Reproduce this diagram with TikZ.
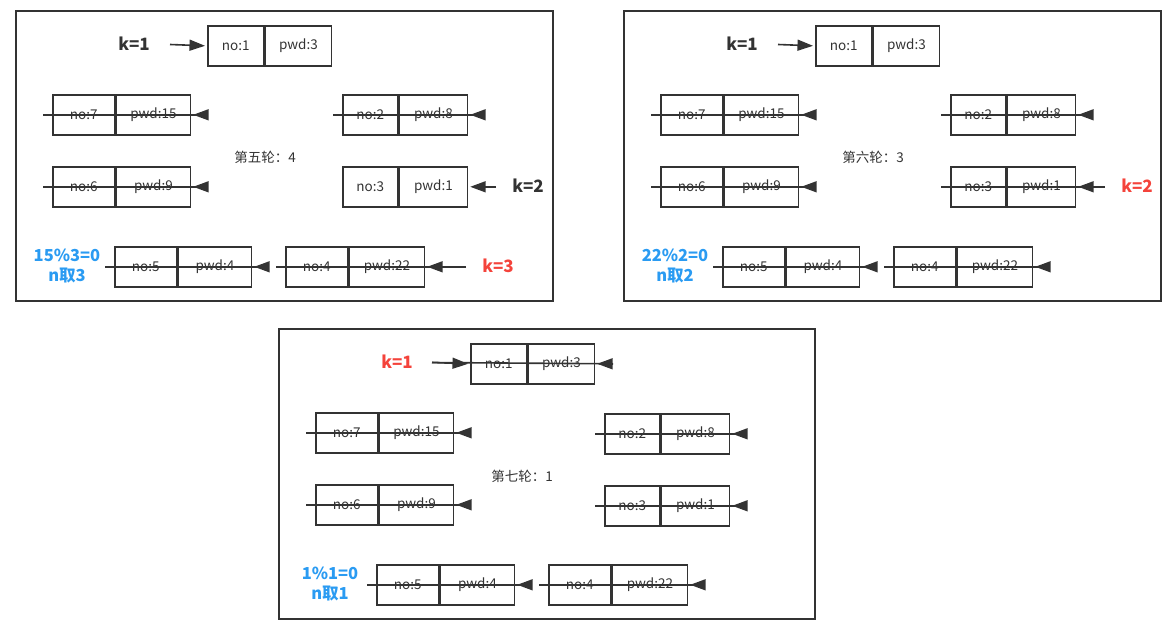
\documentclass[tikz,border=0pt]{standalone}
\usepackage{fontspec}
\setmainfont{Noto Sans CJK SC}
\usetikzlibrary{arrows.meta}
\definecolor{ink}{HTML}{333333}
\definecolor{kred}{HTML}{F4433B}
\definecolor{kblue}{HTML}{2A9BF2}
\tikzset{
 cell/.style={draw=ink, line width=1.6pt, minimum height=40pt, inner sep=0pt, anchor=north west, font=\fontsize{13.5}{15}\selectfont, text=ink},
 frame/.style={draw=ink, line width=1.5pt},
 link/.style={draw=ink, line width=1.6pt},
 arr/.style={draw=ink, line width=1.6pt, -{Triangle[length=15.5pt,width=11pt]}},
 klab/.style={font=\fontsize{17}{20}\selectfont\bfseries, text=ink, inner sep=0pt},
 lab/.style={font=\fontsize{13.5}{15}\selectfont, text=ink, inner sep=0pt},
 nlab/.style={font=\fontsize{16.5}{20.5}\selectfont\bfseries, text=kblue, inner sep=0pt, align=center},
}
\newcommand\duo[7]{%
 \node[cell, minimum width=#6pt] (#1a) at (#2,#3) {#4};
 \node[cell, minimum width=#7pt] (#1b) at (#1a.north east) {#5};
}
\newcommand\strikeout[2]{%
 \draw[link] ([xshift=-9pt]#1a.west) -- ([xshift=#2pt]#1b.east);
 \draw[arr] ([xshift=#2pt]#1b.east) -- ([xshift=2pt]#1b.east);
}
\begin{document}
\begin{tikzpicture}[x=1pt,y=-1pt]
\useasboundingbox (0,0) rectangle (1176,629);
% ---------------- panel 1
\begin{scope}[shift={(16,11)}]
 \draw[frame] (0,0) rectangle (537,290);
 \node[klab] (p1k1) at (118,33) {k=1};
 \coordinate (p1k1s) at (154,33.5);
 \duo{p1n1}{191}{14}{no:1}{pwd:3}{56}{66}
 \draw[arr] (p1k1s) -- ([xshift=-2pt]p1n1a.west);
 \duo{p1n7}{36}{83}{no:7}{pwd:15}{62}{74}
 \duo{p1n2}{326}{83}{no:2}{pwd:8}{55}{68}
 \duo{p1n6}{36}{155}{no:6}{pwd:9}{62}{74}
 \duo{p1n3}{326}{155}{no:3}{pwd:1}{55}{68}
 \duo{p1n5}{98}{235}{no:5}{pwd:4}{62}{73}
 \duo{p1n4}{269}{235}{no:4}{pwd:22}{62}{75}
 \node[lab] (p1t) at (249,146) {第五轮：4};
 \node[klab] (p1k2) at (512,175) {k=2};
 \node[klab, text=kred] (p1k3) at (482,255) {k=3};
 \node[nlab] (p1m) at (51,255) {15\%3=0\\n取3};
 \strikeout{p1n7}{16}
 \strikeout{p1n2}{16}
 \strikeout{p1n6}{16}
 \strikeout{p1n5}{16}
 \strikeout{p1n4}{41}
 \draw[arr] ([xshift=28pt]p1n3b.east) -- ([xshift=2pt]p1n3b.east);
\end{scope}
% ---------------- panel 2
\begin{scope}[shift={(624,11)}]
 \draw[frame] (0,0) rectangle (537,290);
 \node[klab] (p2k1) at (118,33) {k=1};
 \coordinate (p2k1s) at (154,33.5);
 \duo{p2n1}{191}{14}{no:1}{pwd:3}{56}{66}
 \draw[arr] (p2k1s) -- ([xshift=-2pt]p2n1a.west);
 \duo{p2n7}{36}{83}{no:7}{pwd:15}{62}{74}
 \duo{p2n2}{326}{83}{no:2}{pwd:8}{55}{68}
 \duo{p2n6}{36}{155}{no:6}{pwd:9}{62}{74}
 \duo{p2n3}{326}{155}{no:3}{pwd:1}{55}{68}
 \duo{p2n5}{98}{235}{no:5}{pwd:4}{62}{73}
 \duo{p2n4}{269}{235}{no:4}{pwd:22}{62}{75}
 \node[lab] (p2t) at (249,146) {第六轮：3};
 \node[klab, text=kred] (p2k2) at (513,175) {k=2};
 \node[nlab] (p2m) at (51,255) {22\%2=0\\n取2};
 \strikeout{p2n7}{16}
 \strikeout{p2n2}{16}
 \strikeout{p2n6}{16}
 \strikeout{p2n3}{29}
 \strikeout{p2n5}{16}
 \strikeout{p2n4}{16}
\end{scope}
% ---------------- panel 3
\begin{scope}[shift={(279,329)}]
 \draw[frame] (0,0) rectangle (536,290);
 \node[klab, text=kred] (p3k1) at (118,33) {k=1};
 \coordinate (p3k1s) at (153,33.5);
 \duo{p3n1}{191}{14}{no:1}{pwd:3}{56}{66}
 \draw[link] (p3k1s) -- ([xshift=18pt]p3n1b.east);
 \draw[arr] (p3k1s) -- ([xshift=-2pt]p3n1a.west);
 \draw[arr] ([xshift=18pt]p3n1b.east) -- ([xshift=2pt]p3n1b.east);
 \duo{p3n7}{36}{83}{no:7}{pwd:15}{62}{74}
 \duo{p3n2}{325}{84}{no:2}{pwd:8}{55}{68}
 \duo{p3n6}{36}{155}{no:6}{pwd:9}{62}{74}
 \duo{p3n3}{325}{156}{no:3}{pwd:1}{55}{68}
 \duo{p3n5}{97}{235}{no:5}{pwd:4}{62}{74}
 \duo{p3n4}{269}{235}{no:4}{pwd:22}{62}{75}
 \node[lab] (p3t) at (243,147) {第七轮：1};
 \node[nlab] (p3m) at (51,255) {1\%1=0\\n取1};
 \strikeout{p3n7}{16}
 \strikeout{p3n2}{16}
 \strikeout{p3n6}{16}
 \strikeout{p3n3}{16}
 \strikeout{p3n5}{16}
 \strikeout{p3n4}{16}
\end{scope}
\end{tikzpicture}
\end{document}
